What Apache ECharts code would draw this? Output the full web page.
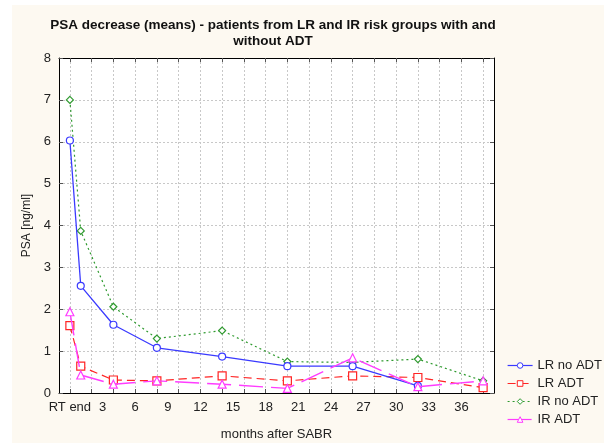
<!DOCTYPE html>
<html>
<head>
<meta charset="utf-8">
<script src="https://cdn.jsdelivr.net/npm/echarts@6/dist/echarts.min.js"></script>
<style>
html,body{margin:0;padding:0;background:#ffffff;}
#c{width:609px;height:446px;}
</style>
</head>
<body>
<div id="c"></div>
<script>
// ---- data ----
const months = [0, 1, 4, 8, 14, 20, 26, 32, 38];
const lrNoAdt = [6.03, 2.56, 1.63, 1.08, 0.87, 0.64, 0.64, 0.17, null];
const lrAdt   = [1.61, 0.64, 0.31, 0.29, 0.41, 0.29, 0.41, 0.37, 0.13];
const irNoAdt = [7.00, 3.87, 2.06, 1.30, 1.49, 0.75, 0.73, 0.81, 0.29];
const irAdt   = [1.94, 0.43, 0.21, 0.29, 0.21, 0.11, 0.84, 0.15, 0.29];
const seriesNames = ['LR no ADT', 'LR ADT', 'IR no ADT', 'IR ADT'];
const xTickMonths = [0, 3, 6, 9, 12, 15, 18, 21, 24, 27, 30, 33, 36];
const xTickLabels = ['RT end', '3', '6', '9', '12', '15', '18', '21', '24', '27', '30', '33', '36'];
const xGridMonths = [0, 2, 4, 6, 8, 10, 12, 14, 16, 18, 20, 22, 24, 26, 28, 30, 32, 34, 36, 38];
const xMin = -1, xMax = 39;

// ---- build ----
const cats = [];
for (let m = xMin; m <= xMax; m++) cats.push(String(m));
const labelMap = {};
xTickMonths.forEach((m, i) => { labelMap[String(m)] = xTickLabels[i]; });
const gridSet = new Set(xGridMonths.map(String));

function pairs(vals) {
  const out = [];
  months.forEach((m, i) => { if (vals[i] !== null) out.push([String(m), vals[i]]); });
  return out;
}

const font = 'Liberation Sans, Arial, sans-serif';
const gridLine = { show: true, lineStyle: { color: '#c8c8c8', type: [2, 2], width: 1 } };

function xAx(pos, showLabel) {
  return {
    type: 'category', data: cats, boundaryGap: false, position: pos,
    axisLine: { show: true, onZero: false, lineStyle: { color: '#000', width: 1 } },
    axisTick: { show: true, inside: true, length: 4, lineStyle: { color: '#555' },
      interval: (i, v) => gridSet.has(v) },
    axisLabel: { show: showLabel, color: '#222', fontSize: 13, fontFamily: font, margin: 8,
      interval: (i, v) => labelMap[v] !== undefined,
      formatter: (v) => labelMap[v] !== undefined ? labelMap[v] : '' },
    splitLine: Object.assign({}, gridLine, { show: showLabel, interval: (i, v) => gridSet.has(v) }),
    name: showLabel ? 'months after SABR' : '',
    nameLocation: 'middle', nameGap: 35,
    nameTextStyle: { color: '#222', fontSize: 13, fontFamily: font }
  };
}
function yAx(pos, showLabel) {
  return {
    type: 'value', min: 0, max: 8, interval: 1, position: pos,
    axisLine: { show: true, lineStyle: { color: '#000', width: 1 } },
    axisTick: { show: true, inside: true, length: 4, lineStyle: { color: '#555' } },
    axisLabel: { show: showLabel, color: '#222', fontSize: 13, fontFamily: font, margin: 8 },
    splitLine: Object.assign({}, gridLine, { show: showLabel }),
    name: showLabel ? 'PSA [ng/ml]' : '',
    nameLocation: 'middle', nameGap: 24,
    nameTextStyle: { color: '#222', fontSize: 12, fontFamily: font }
  };
}

function lineSeries(name, vals, symbol, size, color, width, dash, z) {
  return {
    name: name, type: 'line', data: pairs(vals), symbol: symbol, symbolSize: size,
    showAllSymbol: true, z: z,
    itemStyle: { color: '#ffffff', borderColor: color, borderWidth: 1.2 },
    lineStyle: { color: color, width: width, type: dash }
  };
}

const chart = echarts.init(document.getElementById('c'), null, { renderer: 'canvas' });
chart.setOption({
  backgroundColor: '#ffffff',
  animation: false,
  graphic: [{
    type: 'rect', z: -10, silent: true,
    shape: { x: 12, y: 5, width: 592, height: 438 },
    style: { fill: '#fdf9f1' }
  }],
  title: {
    text: 'PSA decrease (means) - patients from LR and IR risk groups with and\nwithout ADT',
    left: 268, top: 12, textAlign: 'center',
    textStyle: { fontSize: 13.5, fontWeight: 'bold', color: '#111', fontFamily: font, lineHeight: 16 }
  },
  grid: { left: 59, top: 58, right: 115, bottom: 53, show: true, backgroundColor: '#ffffff', borderWidth: 0 },
  xAxis: [xAx('bottom', true), xAx('top', false)],
  yAxis: [yAx('left', true), yAx('right', false)],
  legend: {
    orient: 'vertical', left: 502, top: 354, itemGap: 5, itemWidth: 25, itemHeight: 7,
    lineStyle: { width: 1.2 },
    itemStyle: { borderWidth: 1 },
    textStyle: { color: '#222', fontSize: 13, fontFamily: font },
    data: seriesNames
  },
  series: [
    lineSeries(seriesNames[0], lrNoAdt, 'circle', 7, '#3a3aff', 1.3, 'solid', 4),
    lineSeries(seriesNames[1], lrAdt, 'rect', 8, '#ff2424', 1.2, [8, 5], 3),
    lineSeries(seriesNames[2], irNoAdt, 'diamond', 7, '#2f9a2f', 1.2, [2, 3], 2),
    lineSeries(seriesNames[3], irAdt, 'triangle', 8, '#ff3cff', 1.4, [24, 8], 5)
  ]
});
</script>
</body>
</html>
